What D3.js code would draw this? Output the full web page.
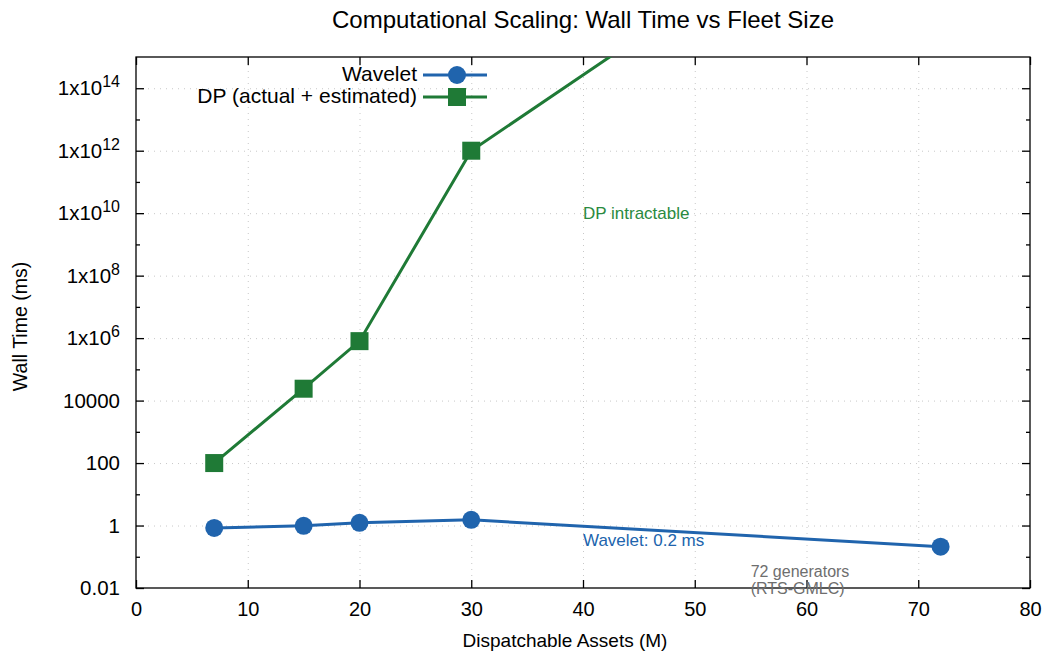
<!DOCTYPE html>
<html>
<head>
<meta charset="utf-8">
<script src="https://cdn.jsdelivr.net/npm/d3@7"></script>
<style>
  body { margin: 0; background: #fff; }
  svg { font-family: "Liberation Sans", Arial, Helvetica, sans-serif; }
</style>
</head>
<body>
<svg id="chart"></svg>
<script>
// series values
const waveletM = [7, 15, 20, 30, 72];
const waveletMs = [0.84, 0.98, 1.22, 1.52, 0.21];
const dpM = [7, 15, 20, 30, 72];
const dpMs = [100, 2.4e4, 8e5, 1e12, 1.5e22];

// tick labels
const xTicks = [0, 10, 20, 30, 40, 50, 60, 70, 80];
const yMajor = [1e-2, 1, 1e2, 1e4, 1e6, 1e8, 1e10, 1e12, 1e14];
const yMinor = [1e-1, 10, 1e3, 1e5, 1e7, 1e9, 1e11, 1e13];

const blue = "#2064ad";
const green = "#1f7a36";

const w = 1049;
const h = 654;
const margin = { top: 57, right: 19, bottom: 66, left: 136 };
const pw = w - margin.left - margin.right;
const ph = h - margin.top - margin.bottom;

const svg = d3.select("#chart").attr("width", w).attr("height", h);

const xScale = d3.scaleLinear().domain([0, 80]).range([margin.left, margin.left + pw]);
const yScale = d3.scaleLog().domain([0.01, 1e15]).range([margin.top + ph, margin.top]);

svg.append("clipPath").attr("id", "plotClip")
  .append("rect")
  .attr("x", margin.left).attr("y", margin.top)
  .attr("width", pw).attr("height", ph);

//grid
const gridStyle = (g) => {
  g.select(".domain").remove();
  g.selectAll("line")
    .attr("stroke", "#c8c8c8")
    .attr("stroke-width", 1)
    .attr("stroke-dasharray", "1,5");
};
svg.append("g")
  .attr("transform", `translate(0,${margin.top + ph})`)
  .call(d3.axisBottom(xScale).tickValues(xTicks.slice(1, -1)).tickSize(-ph).tickFormat(""))
  .call(gridStyle);
svg.append("g")
  .attr("transform", `translate(${margin.left},0)`)
  .call(d3.axisLeft(yScale).tickValues(yMajor.slice(1)).tickSize(-pw).tickFormat(""))
  .call(gridStyle);

//frame
svg.append("rect")
  .attr("x", margin.left).attr("y", margin.top)
  .attr("width", pw).attr("height", ph)
  .attr("fill", "none").attr("stroke", "#000").attr("stroke-width", 1.3);

// ticks pointing inward on all four sides
const tickStyle = (g) => {
  g.select(".domain").remove();
  g.selectAll("line").attr("stroke", "#000").attr("stroke-width", 1.3);
};
const fmtY = (d) => {
  const e = Math.round(Math.log10(d));
  return e <= 4 ? (e === 4 ? "10000" : d3.format("~g")(d)) : `1x10^${e}`;
};

const xAxis = svg.append("g")
  .attr("transform", `translate(0,${margin.top + ph})`)
  .call(d3.axisBottom(xScale).tickValues(xTicks).tickSizeInner(-8).tickSizeOuter(0).tickPadding(14))
  .call(tickStyle);
xAxis.selectAll("text").attr("font-size", 20).attr("fill", "#000");

svg.append("g")
  .attr("transform", `translate(0,${margin.top})`)
  .call(d3.axisTop(xScale).tickValues(xTicks).tickSizeInner(-8).tickSizeOuter(0).tickFormat(""))
  .call(tickStyle);

const yAxis = svg.append("g")
  .attr("transform", `translate(${margin.left},0)`)
  .call(d3.axisLeft(yScale).tickValues(yMajor).tickSizeInner(-8).tickSizeOuter(0).tickPadding(16).tickFormat(fmtY))
  .call(tickStyle);
yAxis.selectAll("text")
  .attr("font-size", 20.5)
  .attr("fill", "#000")
  .each(function () {
    const t = d3.select(this);
    const s = t.text();
    if (s.startsWith("1x10^")) {
      t.text("");
      t.append("tspan").text("1x10");
      t.append("tspan").attr("dy", -8).attr("font-size", 16).text(s.slice(5));
    }
  });

svg.append("g")
  .attr("transform", `translate(${margin.left},0)`)
  .call(d3.axisLeft(yScale).tickValues(yMinor).tickSizeInner(-4).tickSizeOuter(0).tickFormat(""))
  .call(tickStyle);
svg.append("g")
  .attr("transform", `translate(${margin.left + pw},0)`)
  .call(d3.axisRight(yScale).tickValues(yMajor).tickSizeInner(-8).tickSizeOuter(0).tickFormat(""))
  .call(tickStyle);
svg.append("g")
  .attr("transform", `translate(${margin.left + pw},0)`)
  .call(d3.axisRight(yScale).tickValues(yMinor).tickSizeInner(-4).tickSizeOuter(0).tickFormat(""))
  .call(tickStyle);

//lines
const line = d3.line().x((d) => xScale(d[0])).y((d) => yScale(d[1]));
const dpData = dpM.map((m, i) => [m, dpMs[i]]);
const wvData = waveletM.map((m, i) => [m, waveletMs[i]]);

const dpG = svg.append("g").attr("clip-path", "url(#plotClip)");
dpG.append("path").datum(dpData)
  .attr("fill", "none").attr("stroke", green).attr("stroke-width", 3)
  .attr("d", line);
dpG.selectAll("rect").data(dpData).enter().append("rect")
  .attr("x", (d) => xScale(d[0]) - 9)
  .attr("y", (d) => yScale(d[1]) - 9)
  .attr("width", 18).attr("height", 18)
  .attr("fill", green);

svg.append("path").datum(wvData)
  .attr("fill", "none").attr("stroke", blue).attr("stroke-width", 3)
  .attr("d", line);
svg.selectAll("circle.wv").data(wvData).enter().append("circle")
  .attr("class", "wv")
  .attr("cx", (d) => xScale(d[0]))
  .attr("cy", (d) => yScale(d[1]))
  .attr("r", 9)
  .attr("fill", blue);

//annotations
svg.append("text")
  .attr("x", xScale(40)).attr("y", yScale(1e10) + 1)
  .attr("dominant-baseline", "middle")
  .attr("font-size", 17).attr("fill", "#2a8a40")
  .text("DP intractable");
svg.append("text")
  .attr("x", xScale(40)).attr("y", yScale(0.3))
  .attr("dominant-baseline", "middle")
  .attr("font-size", 17).attr("fill", blue)
  .text("Wavelet: 0.2 ms");
const gen = svg.append("text")
  .attr("x", xScale(55)).attr("y", yScale(0.01) - 11)
  .attr("font-size", 16).attr("fill", "#6e6e6e");
gen.append("tspan").attr("x", xScale(55)).text("72 generators");
gen.append("tspan").attr("x", xScale(55)).attr("dy", 17).text("(RTS-GMLC)");

//legend
const legend = [
  { label: "Wavelet", color: blue, shape: "circle", y: 75 },
  { label: "DP (actual + estimated)", color: green, shape: "square", y: 97 },
];
legend.forEach((l) => {
  svg.append("text")
    .attr("x", 417).attr("y", l.y)
    .attr("text-anchor", "end").attr("dominant-baseline", "middle")
    .attr("font-size", 21).attr("fill", "#000")
    .text(l.label);
  svg.append("line")
    .attr("x1", 423).attr("x2", 487).attr("y1", l.y).attr("y2", l.y)
    .attr("stroke", l.color).attr("stroke-width", 3);
  if (l.shape === "circle") {
    svg.append("circle").attr("cx", 457).attr("cy", l.y).attr("r", 9).attr("fill", l.color);
  } else {
    svg.append("rect").attr("x", 448).attr("y", l.y - 9).attr("width", 18).attr("height", 18).attr("fill", l.color);
  }
});

//titles
svg.append("text")
  .attr("x", margin.left + pw / 2).attr("y", 28)
  .attr("text-anchor", "middle")
  .attr("font-size", 24).attr("fill", "#000")
  .text("Computational Scaling: Wall Time vs Fleet Size");
svg.append("text")
  .attr("x", margin.left + pw / 2 - 18).attr("y", 647)
  .attr("text-anchor", "middle")
  .attr("font-size", 19).attr("fill", "#000")
  .text("Dispatchable Assets (M)");
svg.append("text")
  .attr("transform", `translate(27,${margin.top + ph / 2 + 4}) rotate(-90)`)
  .attr("text-anchor", "middle")
  .attr("font-size", 19.5).attr("fill", "#000")
  .text("Wall Time (ms)");
</script>
</body>
</html>
